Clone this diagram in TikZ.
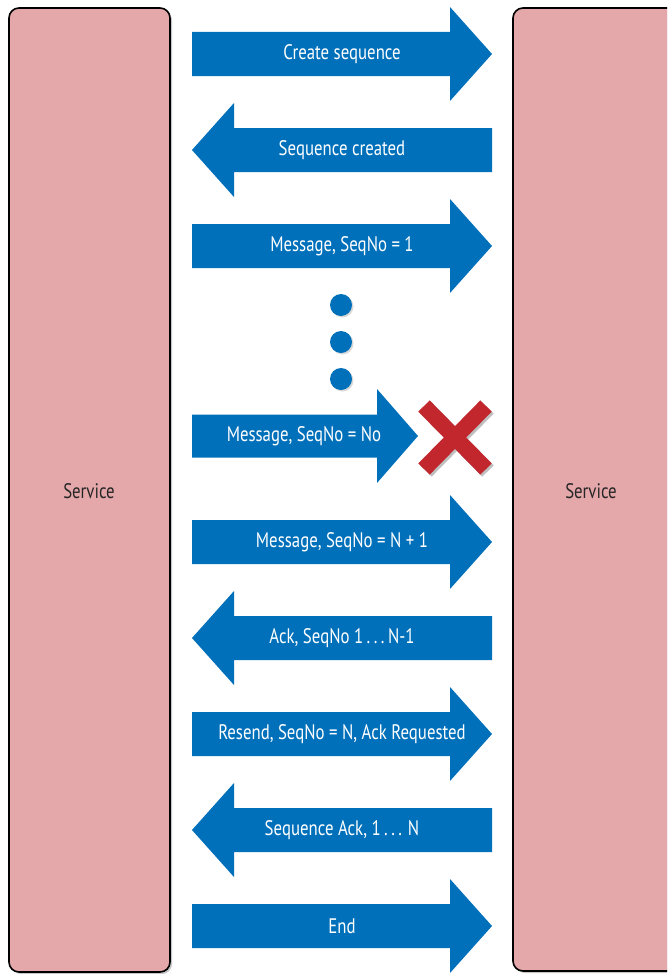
\documentclass[tikz,border=0pt]{standalone}
\usepackage{fontspec}
\setmainfont{PT Sans}[FakeStretch=0.8]
\usetikzlibrary{positioning, shadows}

\definecolor{svcpink}{HTML}{E4A7AA}
\definecolor{msgblue}{HTML}{0070BA}
\definecolor{lostred}{HTML}{C1272D}

\tikzset{
  service/.style={draw=black, line width=1.6pt, fill=svcpink, rounded corners=10pt,
    drop shadow={shadow xshift=2pt, shadow yshift=-2pt, opacity=0.45}},
  svclabel/.style={text=black!85, font=\fontsize{21}{24}\selectfont, inner sep=0pt},
  msg/.style={fill=msgblue},
  msglabel/.style={text=white, font=\fontsize{21}{24}\selectfont, inner sep=0pt},
  dot/.style={fill=msgblue, drop shadow={shadow xshift=1.5pt, shadow yshift=-1.5pt, opacity=0.3}},
}

\begin{document}
\begin{tikzpicture}[x=1pt, y=-1pt]
    \useasboundingbox (0,0) rectangle (667,974);
    \clip (0,0) rectangle (667,974);

    % the two services
    \node[service, minimum width=161pt, minimum height=964pt] (svcA) at (89.5,490) {};
    \node[service, minimum width=220pt, minimum height=963pt] (svcB) at (623,489.5) {};
    \node[svclabel] (svcAname) at (89,491) {Service};
    \node[svclabel] (svcBname) at (591,491) {Service};

    % messages between them
    \foreach \y/\d/\txt [count=\i] in {54/1/{Create sequence}, 150/-1/{Sequence created},
        246/1/{Message, SeqNo = 1}, 542/1/{Message, SeqNo = N + 1},
        638/-1/{Ack, SeqNo 1\,.\,.\,.\,N-1}, 734/1/{Resend, SeqNo = N, Ack Requested},
        830/-1/{Sequence Ack, 1\,.\,.\,. N}, 926/1/{End}} {
      \fill[msg, shift={(342,\y)}, xscale=\d]
        (-150,-22) -- (108,-22) -- (108,-47) -- (150,0) -- (108,47) -- (108,22) -- (-150,22) -- cycle;
      \node[msglabel] (m\i) at (342,\y) {\txt};
    }

    % the lost one
    \fill[msg] (192,414.5) -- (377,414.5) -- (377,389) -- (418,436) -- (377,483) -- (377,457.5) -- (192,457.5) -- cycle;
    \node[msglabel] (mlost) at (304,436) {Message, SeqNo = No};
    \draw[black, opacity=0.25, line width=16pt, xshift=2pt, yshift=-2pt] (424,406) -- (486,469) (424,469) -- (486,406);
    \draw[lostred, line width=16pt] (424,406) -- (486,469) (424,469) -- (486,406);

    \foreach \y in {305, 342, 379} {
      \fill[dot] (341,\y) circle (11);
    }
\end{tikzpicture}
\end{document}
